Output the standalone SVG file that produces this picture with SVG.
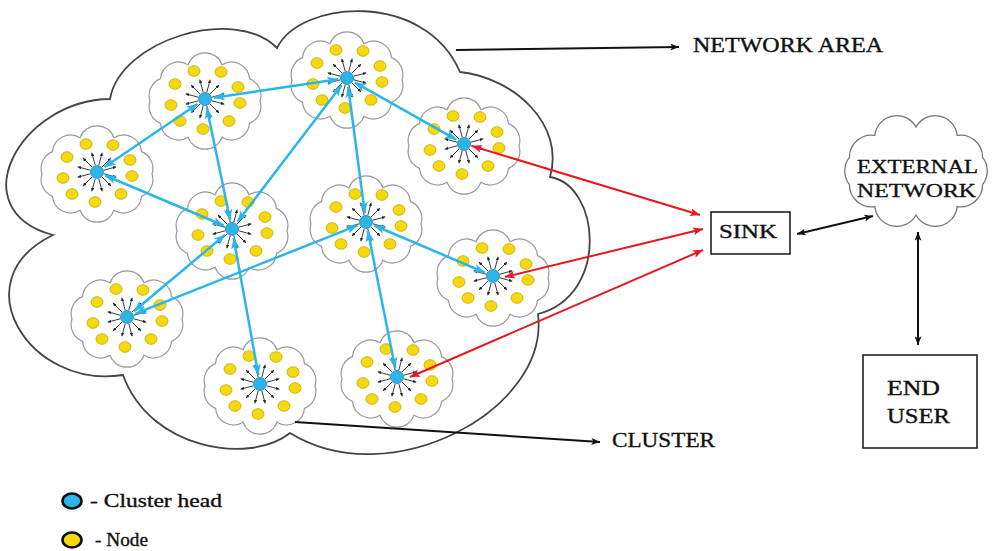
<svg xmlns="http://www.w3.org/2000/svg" width="992" height="551" viewBox="0 0 992 551">
<style>
  .txt{font-family:"Liberation Serif","Times New Roman",serif;fill:#111;stroke:#111;stroke-width:0.35;}
  .big{fill:#fff;stroke:#444;stroke-width:1.8;}
  .ccloud{fill:#fff;stroke:#9a9a9a;stroke-width:1.2;}
  .spoke{stroke:#3a3a3a;stroke-width:1;marker-end:url(#as);}
  .node{fill:#f5d90c;stroke:#c2a400;stroke-width:0.8;}
  .head{fill:#2db4e8;stroke:#1b86b4;stroke-width:0.8;}
  .blue{stroke:#2cb5e8;stroke-width:2.5;fill:none;marker-start:url(#ab);marker-end:url(#ab);}
  .red{stroke:#e8171d;stroke-width:2;fill:none;marker-start:url(#ar);marker-end:url(#ar);}
  .blk{stroke:#111;stroke-width:2;fill:none;}
  .box{fill:#fff;stroke:#222;stroke-width:1.6;}
</style>
<defs>
  <marker id="ab" viewBox="0 0 10 8" refX="10" refY="4" markerWidth="11" markerHeight="9" orient="auto-start-reverse" markerUnits="userSpaceOnUse"><path d="M0,0 L10,4 L0,8 L2.5,4 Z" fill="#2cb5e8"/></marker>
  <marker id="ar" viewBox="0 0 10 8" refX="10" refY="4" markerWidth="10" markerHeight="8" orient="auto-start-reverse" markerUnits="userSpaceOnUse"><path d="M0,0 L10,4 L0,8 L2.5,4 Z" fill="#e8171d"/></marker>
  <marker id="ak" viewBox="0 0 10 8" refX="10" refY="4" markerWidth="9" markerHeight="7" orient="auto-start-reverse" markerUnits="userSpaceOnUse"><path d="M0,0 L10,4 L0,8 L2.5,4 Z" fill="#111"/></marker>
  <marker id="as" viewBox="0 0 4 4" refX="4" refY="2" markerWidth="3.5" markerHeight="3.5" orient="auto" markerUnits="userSpaceOnUse"><path d="M0,0 L4,2 L0,4 Z" fill="#222"/></marker>
  <g id="clusterTpl">
    <path class="ccloud" d="M55,2 A18,18 0 0 1 44.5,24.34 A18,18 0 0 1 17,38.14 A18,18 0 0 1 -17,38.14 A18,18 0 0 1 -44.5,24.34 A18,18 0 0 1 -55,2 A18,18 0 0 1 -44.5,-20.34 A18,18 0 0 1 -17,-34.14 A18,18 0 0 1 17,-34.14 A18,18 0 0 1 44.5,-20.34 A18,18 0 0 1 55,2 Z"/>
    <line class="spoke" x1="6.8" y1="1.8" x2="19.3" y2="5.2"/>
    <line class="spoke" x1="5" y1="5" x2="14.1" y2="14.1"/>
    <line class="spoke" x1="1.8" y1="6.8" x2="5.2" y2="19.3"/>
    <line class="spoke" x1="-1.8" y1="6.8" x2="-5.2" y2="19.3"/>
    <line class="spoke" x1="-5" y1="5" x2="-14.1" y2="14.1"/>
    <line class="spoke" x1="-6.8" y1="1.8" x2="-19.3" y2="5.2"/>
    <line class="spoke" x1="-6.8" y1="-1.8" x2="-19.3" y2="-5.2"/>
    <line class="spoke" x1="-5" y1="-5" x2="-14.1" y2="-14.1"/>
    <line class="spoke" x1="-1.8" y1="-6.8" x2="-5.2" y2="-19.3"/>
    <line class="spoke" x1="1.8" y1="-6.8" x2="5.2" y2="-19.3"/>
    <line class="spoke" x1="5" y1="-5" x2="14.1" y2="-14.1"/>
    <line class="spoke" x1="6.8" y1="-1.8" x2="19.3" y2="-5.2"/>
    <ellipse class="node" cx="-11" cy="-28" rx="6" ry="5.3"/>
    <ellipse class="node" cx="16" cy="-27" rx="6" ry="5.3"/>
    <ellipse class="node" cx="-30" cy="-15" rx="6" ry="5.3"/>
    <ellipse class="node" cx="33" cy="-12" rx="6" ry="5.3"/>
    <ellipse class="node" cx="-34" cy="6" rx="6" ry="5.3"/>
    <ellipse class="node" cx="35" cy="4" rx="6" ry="5.3"/>
    <ellipse class="node" cx="-25" cy="22" rx="6" ry="5.3"/>
    <ellipse class="node" cx="24" cy="22" rx="6" ry="5.3"/>
    <ellipse class="node" cx="-2" cy="30" rx="6" ry="5.3"/>
    <circle class="head" cx="0" cy="0" r="6.5"/>
  </g>
</defs>
<rect width="992" height="551" fill="#fff"/>

<g id="network-area">
  <path class="big" d="M53,235 C-40,210 20,100 110,99 C120,40 235,5 277,48 C300,0 425,-10 460,72 C515,78 565,125 550,177 C600,185 610,295 538,314 C550,410 390,495 290,433 C250,465 150,450 123,375 C30,390 -40,280 53,235 Z"/>
</g>

<g id="cluster1"><use href="#clusterTpl" transform="translate(97,172)"/></g>
<g id="cluster2"><use href="#clusterTpl" transform="translate(205,99)"/></g>
<g id="cluster3"><use href="#clusterTpl" transform="translate(347,78)"/></g>
<g id="cluster4"><use href="#clusterTpl" transform="translate(464,144)"/></g>
<g id="cluster5"><use href="#clusterTpl" transform="translate(232,229)"/></g>
<g id="cluster6"><use href="#clusterTpl" transform="translate(366,222)"/></g>
<g id="cluster7"><use href="#clusterTpl" transform="translate(127,317)"/></g>
<g id="cluster8"><use href="#clusterTpl" transform="translate(493,276)"/></g>
<g id="cluster9"><use href="#clusterTpl" transform="translate(260,384)"/></g>
<g id="cluster10"><use href="#clusterTpl" transform="translate(397,377)"/></g>

<g id="sink">
  <rect class="box" x="711" y="212" width="79" height="42"/>
  <text class="txt" x="719" y="238" font-size="19" textLength="58" lengthAdjust="spacingAndGlyphs">SINK</text>
</g>

<g id="external-network">
  <path fill="#fff" stroke="#777" stroke-width="1.3" d="M982.57,184.6 A22,22 0 0 1 957.16,206.6 A22,22 0 0 1 916,215 A22,22 0 0 1 874.84,206.6 A22,22 0 0 1 849.43,184.6 A22,22 0 0 1 849.43,157.4 A22,22 0 0 1 874.84,135.4 A22,22 0 0 1 916,127 A22,22 0 0 1 957.16,135.4 A22,22 0 0 1 982.57,157.4 A22,22 0 0 1 982.57,184.6 Z"/>
  <text class="txt" x="857" y="173" font-size="19" textLength="121" lengthAdjust="spacingAndGlyphs">EXTERNAL</text>
  <text class="txt" x="857" y="197" font-size="19" textLength="119" lengthAdjust="spacingAndGlyphs">NETWORK</text>
</g>

<g id="end-user">
  <rect class="box" x="863" y="355" width="114" height="93"/>
  <text class="txt" x="887" y="395" font-size="20" textLength="53" lengthAdjust="spacingAndGlyphs">END</text>
  <text class="txt" x="887" y="423" font-size="20" textLength="63" lengthAdjust="spacingAndGlyphs">USER</text>
</g>

<g id="connectors">
  <line class="blue" x1="104.5" y1="167" x2="197.5" y2="104"/>
  <line class="blue" x1="213.9" y1="97.7" x2="338.1" y2="79.3"/>
  <line class="blue" x1="206.8" y1="107.8" x2="230.2" y2="220.2"/>
  <line class="blue" x1="105.3" y1="175.5" x2="223.7" y2="225.5"/>
  <line class="blue" x1="237.5" y1="221.8" x2="341.5" y2="85.2"/>
  <line class="blue" x1="354.8" y1="82.4" x2="456.2" y2="139.6"/>
  <line class="blue" x1="348.2" y1="86.9" x2="364.8" y2="213.1"/>
  <line class="blue" x1="374.3" y1="225.5" x2="484.7" y2="272.5"/>
  <line class="blue" x1="225.1" y1="234.8" x2="133.9" y2="311.2"/>
  <line class="blue" x1="357.6" y1="225.3" x2="135.4" y2="313.7"/>
  <line class="blue" x1="233.6" y1="237.9" x2="258.4" y2="375.1"/>
  <line class="blue" x1="367.8" y1="230.8" x2="395.2" y2="368.2"/>
  <line class="red" x1="472" y1="146" x2="700" y2="215"/>
  <line class="red" x1="505" y1="277" x2="703" y2="229"/>
  <line class="red" x1="410" y1="377" x2="703" y2="250"/>
  <line class="blk" x1="456" y1="50" x2="679" y2="47" marker-end="url(#ak)"/>
  <line class="blk" x1="295" y1="422" x2="600" y2="442" marker-end="url(#ak)"/>
  <line class="blk" x1="797" y1="234" x2="873" y2="216" marker-start="url(#ak)" marker-end="url(#ak)"/>
  <line class="blk" x1="918" y1="232" x2="918" y2="345" marker-start="url(#ak)" marker-end="url(#ak)"/>
</g>

<g id="labels">
  <text class="txt" x="693" y="52" font-size="20" textLength="190" lengthAdjust="spacingAndGlyphs">NETWORK AREA</text>
  <text class="txt" x="612" y="447" font-size="20" textLength="103" lengthAdjust="spacingAndGlyphs">CLUSTER</text>
</g>

<g id="legend">
  <ellipse cx="72" cy="501" rx="9.5" ry="7.5" fill="#2db4e8" stroke="#111" stroke-width="2.6"/>
  <text class="txt" x="90" y="507" font-size="18" textLength="132" lengthAdjust="spacingAndGlyphs">- Cluster head</text>
  <ellipse cx="72" cy="540" rx="9.5" ry="7.5" fill="#f5d90c" stroke="#111" stroke-width="2.6"/>
  <text class="txt" x="95" y="546" font-size="18" textLength="53" lengthAdjust="spacingAndGlyphs">- Node</text>
</g>
</svg>
